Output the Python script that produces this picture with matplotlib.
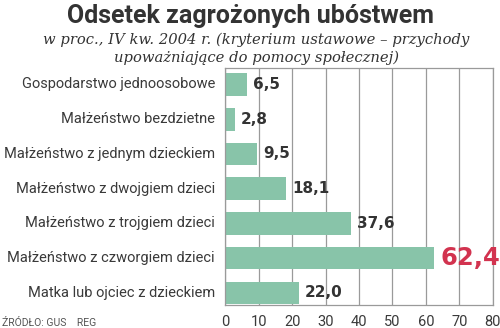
import matplotlib
matplotlib.use("Agg")
import matplotlib.pyplot as plt

categories = [
    "Gospodarstwo jednoosobowe",
    "Małżeństwo bezdzietne",
    "Małżeństwo z jednym dzieckiem",
    "Małżeństwo z dwojgiem dzieci",
    "Małżeństwo z trojgiem dzieci",
    "Małżeństwo z czworgiem dzieci",
    "Matka lub ojciec z dzieckiem",
]
values = [6.5, 2.8, 9.5, 18.1, 37.6, 62.4, 22.0]
value_labels = ["6,5", "2,8", "9,5", "18,1", "37,6", "62,4", "22,0"]
xticks = [0, 10, 20, 30, 40, 50, 60, 70, 80]

title = "Odsetek zagrożonych ubóstwem"
subtitle_lines = ["w proc., IV kw. 2004 r. (kryterium ustawowe – przychody",
                  "upoważniające do pomocy społecznej)"]
source = "ŹRÓDŁO: GUS    REG"

BAR = "#88c4a9"
DARK = "#333333"
RED = "#d2334f"
GRID = "#9a9a9a"

fig = plt.figure(figsize=(5.0, 3.28), dpi=100)
fig.patch.set_facecolor("white")
ax = fig.add_axes([225.3 / 500, 1 - 305 / 328, (492.7 - 225.3) / 500, (305 - 67.5) / 328])

ypos = list(range(len(categories)))
ax.barh(ypos, values, height=0.65, color=BAR, zorder=2)
ax.set_xlim(0, 80)
ax.set_ylim(len(categories) - 1 + 0.35, -0.49)

ax.set_xticks(xticks)
ax.set_xticklabels([str(t) for t in xticks], family="Roboto", fontsize=10.5, color="#3a3a3a")
ax.tick_params(axis="x", length=0, pad=7)
ax.set_yticks([])
ax.xaxis.grid(True, color=GRID, linewidth=0.9, zorder=0)
ax.set_axisbelow(True)
for s in ax.spines.values():
    s.set_color(GRID)
    s.set_linewidth(0.9)

for i, (v, lab) in enumerate(zip(values, value_labels)):
    big = v == max(values)
    ax.text(v + (2.0 if big else 1.8), i, lab, va="center", ha="left",
            family="DejaVu Sans", fontweight="bold",
            fontsize=17.5 if big else 11, color=RED if big else DARK, zorder=3)

for i, c in enumerate(categories):
    fig.text(215 / 500, 1 - (84.5 + i * 34.7) / 328, c, ha="right", va="center",
             family="Roboto", fontsize=10.5, color="#3a3a3a")

fig.text(250.5 / 500, 1 - 16 / 328, title, ha="center", va="center",
         family="Roboto", fontweight="bold", fontsize=18, color=DARK)
for k, line in enumerate(subtitle_lines):
    fig.text(256 / 500, 1 - (40 + 18 * k) / 328, line, ha="center", va="center",
             family="DejaVu Serif", style="italic", fontsize=10.6, color=DARK)
fig.text(2 / 500, 1 - 323 / 328, source, ha="left", va="center",
         family="Roboto", fontsize=7.5, color="#555555")

fig.savefig("out.png", dpi=100, facecolor="white")
